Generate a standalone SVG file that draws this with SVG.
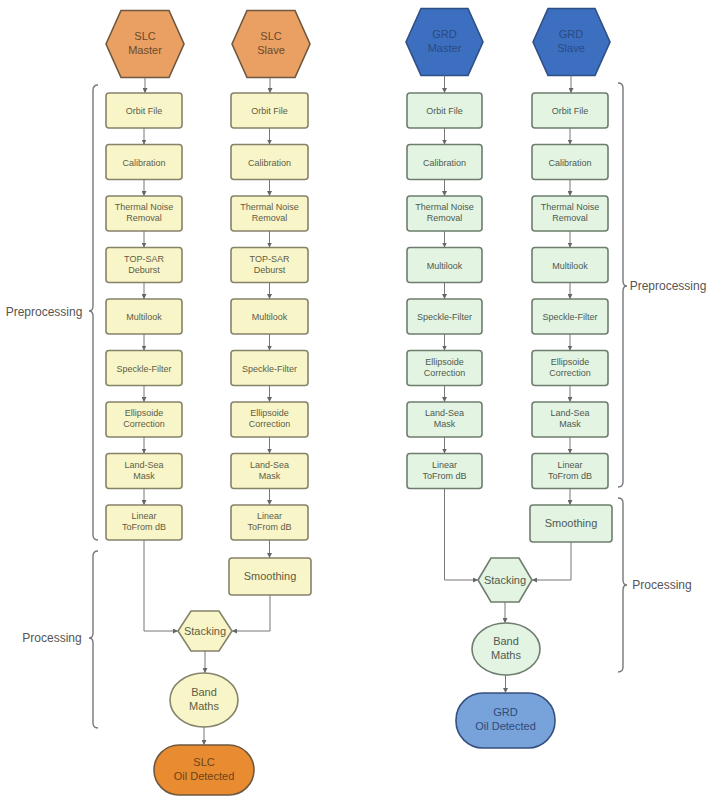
<svg xmlns="http://www.w3.org/2000/svg" width="707" height="799" viewBox="0 0 707 799">
  <defs>
    <marker id="arr" viewBox="0 0 10 10" refX="9" refY="5" markerWidth="5" markerHeight="5" orient="auto-start-reverse">
      <path d="M0,0 L10,5 L0,10 z" fill="#666"/>
    </marker>
    <style>
      text { font-family: "Liberation Sans", Arial, sans-serif; text-anchor: middle; }
      .y rect, .y polygon, .y ellipse { fill: #f8f5c9; stroke: #85836a; stroke-width: 1.6; }
      .g rect, .g polygon, .g ellipse { fill: #e3f4e2; stroke: #6f7d6f; stroke-width: 1.6; }
      .y text { fill: #5f5d45; font-size: 9px; }
      .g text { fill: #4f5a4f; font-size: 9px; }
      .big text { font-size: 11px; }
      .slc polygon { fill: #e9a062; stroke: #6e5840; stroke-width: 1.6; }
      .slc text { fill: #6b4a2c; font-size: 11px; }
      .grd polygon { fill: #3d6fc0; stroke: #2f4f84; stroke-width: 1.6; }
      .grd text { fill: #2a4a80; font-size: 11px; }
      .slcout rect { fill: #e98b30; stroke: #6e5840; stroke-width: 1.6; }
      .slcout text { fill: #6b4418; font-size: 11px; }
      .grdout rect { fill: #78a2da; stroke: #34507e; stroke-width: 1.6; }
      .grdout text { fill: #2f4a78; font-size: 11px; }
      .edges path { fill: none; stroke: #777; stroke-width: 1; }
      .brace path { fill: none; stroke: #777; stroke-width: 1.4; }
      .lbl { fill: #555; font-size: 12px; }
    </style>
  </defs>

  <!-- SLC sources -->
  <g id="slc-master" class="slc">
    <polygon points="106,44 121,10.5 169,10.5 184,44 169,77.5 121,77.5"/>
    <text x="145" y="40">SLC</text><text x="145" y="54">Master</text>
  </g>
  <g id="slc-slave" class="slc">
    <polygon points="232,44 247,10.5 295,10.5 310,44 295,77.5 247,77.5"/>
    <text x="271" y="40">SLC</text><text x="271" y="54">Slave</text>
  </g>

  <!-- SLC master chain -->
  <g id="slc-m-orbit" class="y"><rect x="106" y="93" width="76" height="35" rx="3"/><text x="144" y="114">Orbit File</text></g>
  <g id="slc-m-cal" class="y"><rect x="106" y="144.5" width="76" height="35" rx="3"/><text x="144" y="165.5">Calibration</text></g>
  <g id="slc-m-tnr" class="y"><rect x="106" y="196" width="76" height="35" rx="3"/><text x="144" y="210">Thermal Noise</text><text x="144" y="221">Removal</text></g>
  <g id="slc-m-deb" class="y"><rect x="106" y="247.5" width="76" height="35" rx="3"/><text x="144" y="261.5">TOP-SAR</text><text x="144" y="272.5">Deburst</text></g>
  <g id="slc-m-ml" class="y"><rect x="106" y="299" width="76" height="35" rx="3"/><text x="144" y="320">Multilook</text></g>
  <g id="slc-m-spk" class="y"><rect x="106" y="350.5" width="76" height="35" rx="3"/><text x="144" y="371.5">Speckle-Filter</text></g>
  <g id="slc-m-ell" class="y"><rect x="106" y="402" width="76" height="35" rx="3"/><text x="144" y="416">Ellipsoide</text><text x="144" y="427">Correction</text></g>
  <g id="slc-m-lsm" class="y"><rect x="106" y="453.5" width="76" height="35" rx="3"/><text x="144" y="467.5">Land-Sea</text><text x="144" y="478.5">Mask</text></g>
  <g id="slc-m-db" class="y"><rect x="106" y="505" width="76" height="35" rx="3"/><text x="144" y="519">Linear</text><text x="144" y="530">ToFrom dB</text></g>

  <!-- SLC slave chain -->
  <g id="slc-s-orbit" class="y"><rect x="231" y="93" width="77" height="35" rx="3"/><text x="269.5" y="114">Orbit File</text></g>
  <g id="slc-s-cal" class="y"><rect x="231" y="144.5" width="77" height="35" rx="3"/><text x="269.5" y="165.5">Calibration</text></g>
  <g id="slc-s-tnr" class="y"><rect x="231" y="196" width="77" height="35" rx="3"/><text x="269.5" y="210">Thermal Noise</text><text x="269.5" y="221">Removal</text></g>
  <g id="slc-s-deb" class="y"><rect x="231" y="247.5" width="77" height="35" rx="3"/><text x="269.5" y="261.5">TOP-SAR</text><text x="269.5" y="272.5">Deburst</text></g>
  <g id="slc-s-ml" class="y"><rect x="231" y="299" width="77" height="35" rx="3"/><text x="269.5" y="320">Multilook</text></g>
  <g id="slc-s-spk" class="y"><rect x="231" y="350.5" width="77" height="35" rx="3"/><text x="269.5" y="371.5">Speckle-Filter</text></g>
  <g id="slc-s-ell" class="y"><rect x="231" y="402" width="77" height="35" rx="3"/><text x="269.5" y="416">Ellipsoide</text><text x="269.5" y="427">Correction</text></g>
  <g id="slc-s-lsm" class="y"><rect x="231" y="453.5" width="77" height="35" rx="3"/><text x="269.5" y="467.5">Land-Sea</text><text x="269.5" y="478.5">Mask</text></g>
  <g id="slc-s-db" class="y"><rect x="231" y="505" width="77" height="35" rx="3"/><text x="269.5" y="519">Linear</text><text x="269.5" y="530">ToFrom dB</text></g>
  <g id="slc-s-smooth" class="y big"><rect x="229" y="558" width="82" height="37" rx="3"/><text x="270" y="580">Smoothing</text></g>

  <!-- SLC processing -->
  <g id="slc-stack" class="y big"><polygon points="178,631 191,611 219,611 232,631 219,651 191,651"/><text x="205" y="635">Stacking</text></g>
  <g id="slc-band" class="y big"><ellipse cx="204" cy="700" rx="34" ry="27"/><text x="204" y="696">Band</text><text x="204" y="710">Maths</text></g>
  <g id="slc-oil" class="slcout"><rect x="154" y="745" width="100" height="50" rx="25"/><text x="204" y="766">SLC</text><text x="204" y="780">Oil Detected</text></g>

  <!-- GRD sources -->
  <g id="grd-master" class="grd">
    <polygon points="406,42 421,8.5 468,8.5 483,42 468,75.5 421,75.5"/>
    <text x="444.5" y="38">GRD</text><text x="444.5" y="52">Master</text>
  </g>
  <g id="grd-slave" class="grd">
    <polygon points="533,42 548,8.5 595,8.5 610,42 595,75.5 548,75.5"/>
    <text x="571" y="38">GRD</text><text x="571" y="52">Slave</text>
  </g>

  <!-- GRD master chain -->
  <g id="grd-m-orbit" class="g"><rect x="407" y="93" width="75" height="35" rx="3"/><text x="444.5" y="114">Orbit File</text></g>
  <g id="grd-m-cal" class="g"><rect x="407" y="144.5" width="75" height="35" rx="3"/><text x="444.5" y="165.5">Calibration</text></g>
  <g id="grd-m-tnr" class="g"><rect x="407" y="196" width="75" height="35" rx="3"/><text x="444.5" y="210">Thermal Noise</text><text x="444.5" y="221">Removal</text></g>
  <g id="grd-m-ml" class="g"><rect x="407" y="247.5" width="75" height="35" rx="3"/><text x="444.5" y="268.5">Multilook</text></g>
  <g id="grd-m-spk" class="g"><rect x="407" y="299" width="75" height="35" rx="3"/><text x="444.5" y="320">Speckle-Filter</text></g>
  <g id="grd-m-ell" class="g"><rect x="407" y="350.5" width="75" height="35" rx="3"/><text x="444.5" y="364.5">Ellipsoide</text><text x="444.5" y="375.5">Correction</text></g>
  <g id="grd-m-lsm" class="g"><rect x="407" y="402" width="75" height="35" rx="3"/><text x="444.5" y="416">Land-Sea</text><text x="444.5" y="427">Mask</text></g>
  <g id="grd-m-db" class="g"><rect x="407" y="453.5" width="75" height="35" rx="3"/><text x="444.5" y="467.5">Linear</text><text x="444.5" y="478.5">ToFrom dB</text></g>

  <!-- GRD slave chain -->
  <g id="grd-s-orbit" class="g"><rect x="532" y="93" width="76" height="35" rx="3"/><text x="570" y="114">Orbit File</text></g>
  <g id="grd-s-cal" class="g"><rect x="532" y="144.5" width="76" height="35" rx="3"/><text x="570" y="165.5">Calibration</text></g>
  <g id="grd-s-tnr" class="g"><rect x="532" y="196" width="76" height="35" rx="3"/><text x="570" y="210">Thermal Noise</text><text x="570" y="221">Removal</text></g>
  <g id="grd-s-ml" class="g"><rect x="532" y="247.5" width="76" height="35" rx="3"/><text x="570" y="268.5">Multilook</text></g>
  <g id="grd-s-spk" class="g"><rect x="532" y="299" width="76" height="35" rx="3"/><text x="570" y="320">Speckle-Filter</text></g>
  <g id="grd-s-ell" class="g"><rect x="532" y="350.5" width="76" height="35" rx="3"/><text x="570" y="364.5">Ellipsoide</text><text x="570" y="375.5">Correction</text></g>
  <g id="grd-s-lsm" class="g"><rect x="532" y="402" width="76" height="35" rx="3"/><text x="570" y="416">Land-Sea</text><text x="570" y="427">Mask</text></g>
  <g id="grd-s-db" class="g"><rect x="532" y="453.5" width="76" height="35" rx="3"/><text x="570" y="467.5">Linear</text><text x="570" y="478.5">ToFrom dB</text></g>
  <g id="grd-s-smooth" class="g big"><rect x="530" y="505" width="82" height="37" rx="3"/><text x="571" y="527">Smoothing</text></g>

  <!-- GRD processing -->
  <g id="grd-stack" class="g big"><polygon points="478,580 491,558 519,558 532,580 519,602 491,602"/><text x="505" y="584">Stacking</text></g>
  <g id="grd-band" class="g big"><ellipse cx="506" cy="649" rx="34" ry="26"/><text x="506" y="645">Band</text><text x="506" y="659">Maths</text></g>
  <g id="grd-oil" class="grdout"><rect x="456" y="693" width="99" height="55" rx="27"/><text x="505.5" y="716">GRD</text><text x="505.5" y="730">Oil Detected</text></g>

  <!-- connectors -->
  <g id="edges" class="edges">
    <!-- SLC master -->
    <path d="M145,77.5 V92.5" marker-end="url(#arr)"/>
    <path d="M144,128 V144" marker-end="url(#arr)"/>
    <path d="M144,179.5 V195.5" marker-end="url(#arr)"/>
    <path d="M144,231 V247" marker-end="url(#arr)"/>
    <path d="M144,282.5 V298.5" marker-end="url(#arr)"/>
    <path d="M144,334 V350" marker-end="url(#arr)"/>
    <path d="M144,385.5 V401.5" marker-end="url(#arr)"/>
    <path d="M144,437 V453" marker-end="url(#arr)"/>
    <path d="M144,488.5 V504.5" marker-end="url(#arr)"/>
    <path d="M144,540 V631 H177.5" marker-end="url(#arr)"/>
    <!-- SLC slave -->
    <path d="M270,77.5 V92.5" marker-end="url(#arr)"/>
    <path d="M269.5,128 V144" marker-end="url(#arr)"/>
    <path d="M269.5,179.5 V195.5" marker-end="url(#arr)"/>
    <path d="M269.5,231 V247" marker-end="url(#arr)"/>
    <path d="M269.5,282.5 V298.5" marker-end="url(#arr)"/>
    <path d="M269.5,334 V350" marker-end="url(#arr)"/>
    <path d="M269.5,385.5 V401.5" marker-end="url(#arr)"/>
    <path d="M269.5,437 V453" marker-end="url(#arr)"/>
    <path d="M269.5,488.5 V504.5" marker-end="url(#arr)"/>
    <path d="M269.5,540 V557.5" marker-end="url(#arr)"/>
    <path d="M270,595 V631 H232.5" marker-end="url(#arr)"/>
    <path d="M205,651 V672.5" marker-end="url(#arr)"/>
    <path d="M204,727 V744.5" marker-end="url(#arr)"/>
    <!-- GRD master -->
    <path d="M444.5,75.5 V92.5" marker-end="url(#arr)"/>
    <path d="M444.5,128 V144" marker-end="url(#arr)"/>
    <path d="M444.5,179.5 V195.5" marker-end="url(#arr)"/>
    <path d="M444.5,231 V247" marker-end="url(#arr)"/>
    <path d="M444.5,282.5 V298.5" marker-end="url(#arr)"/>
    <path d="M444.5,334 V350" marker-end="url(#arr)"/>
    <path d="M444.5,385.5 V401.5" marker-end="url(#arr)"/>
    <path d="M444.5,437 V453" marker-end="url(#arr)"/>
    <path d="M444.5,488.5 V580 H477.5" marker-end="url(#arr)"/>
    <!-- GRD slave -->
    <path d="M571,75.5 V92.5" marker-end="url(#arr)"/>
    <path d="M570,128 V144" marker-end="url(#arr)"/>
    <path d="M570,179.5 V195.5" marker-end="url(#arr)"/>
    <path d="M570,231 V247" marker-end="url(#arr)"/>
    <path d="M570,282.5 V298.5" marker-end="url(#arr)"/>
    <path d="M570,334 V350" marker-end="url(#arr)"/>
    <path d="M570,385.5 V401.5" marker-end="url(#arr)"/>
    <path d="M570,437 V453" marker-end="url(#arr)"/>
    <path d="M570,488.5 V504.5" marker-end="url(#arr)"/>
    <path d="M571,542 V580 H532.5" marker-end="url(#arr)"/>
    <path d="M505,602 V622.5" marker-end="url(#arr)"/>
    <path d="M505.5,675 V692.5" marker-end="url(#arr)"/>
  </g>

  <!-- stage braces and labels -->
  <g id="brace-slc-pre" class="brace">
    <path d="M98,85 Q93,85 93,90 V306 Q93,311 89,311 Q93,311 93,316 V535 Q93,540 98,540"/>
    <text class="lbl" x="44" y="316">Preprocessing</text>
  </g>
  <g id="brace-slc-proc" class="brace">
    <path d="M98,551 Q93,551 93,556 V633 Q93,638 89,638 Q93,638 93,643 V723 Q93,728 98,728"/>
    <text class="lbl" x="52" y="642">Processing</text>
  </g>
  <g id="brace-grd-pre" class="brace">
    <path d="M618,83 Q623,83 623,88 V281 Q623,286 627,286 Q623,286 623,291 V482 Q623,487 618,487"/>
    <text class="lbl" x="668" y="290">Preprocessing</text>
  </g>
  <g id="brace-grd-proc" class="brace">
    <path d="M618,498 Q623,498 623,503 V580 Q623,585 627,585 Q623,585 623,590 V667 Q623,672 618,672"/>
    <text class="lbl" x="662" y="589">Processing</text>
  </g>
</svg>
